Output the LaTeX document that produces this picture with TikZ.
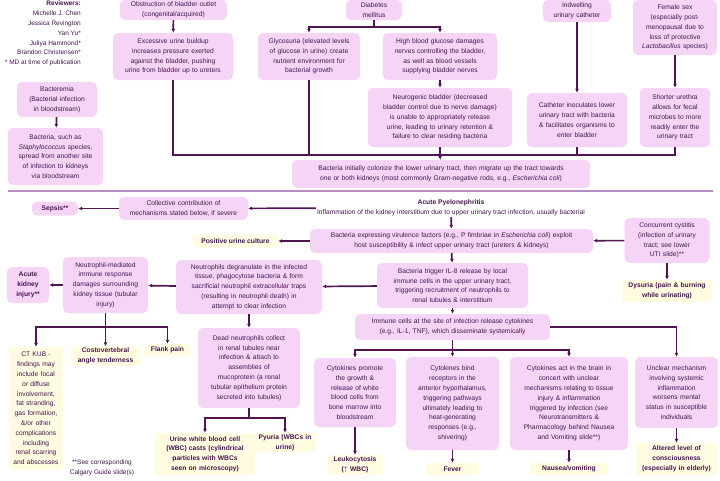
\documentclass[tikz,border=0pt]{standalone}
\usepackage{fontspec}
\setmainfont{Liberation Sans}
\usepackage{xcolor}
\usepackage{tikz}
\usetikzlibrary{
  arrows.meta,
  positioning,
  calc
}

\definecolor{boxpink}{RGB}{246,212,246}
\definecolor{findyellow}{RGB}{255,252,226}
\definecolor{inkpurple}{RGB}{70,20,80}
\definecolor{linepurple}{RGB}{80,22,82}
\definecolor{seppurple}{RGB}{185,140,195}

\begin{document}
\begin{tikzpicture}[
  x=1pt, y=-1pt,
  pinkbox/.style={
    fill=boxpink, rounded corners=5pt, align=center, text=inkpurple,
    inner xsep=3pt, inner ysep=2pt, font=\fontsize{6.7}{9.8}\selectfont
  },
  findbox/.style={
    fill=findyellow, rounded corners=2pt, align=center, text=inkpurple,
    inner xsep=3pt, inner ysep=1.5pt, font=\fontsize{6.7}{9.8}\selectfont\bfseries
  },
  flow/.style={draw=linepurple, line width=1.7pt, -{Latex[length=4pt, width=4pt]}},
  link/.style={draw=linepurple, line width=1.7pt},
  sepline/.style={draw=seppurple, line width=1.2pt}
]
  \useasboundingbox (0,0) rectangle (720,480);

  % reviewers
  \node[anchor=north east, align=right, text=inkpurple, inner sep=0pt,
        font=\fontsize{6.5}{9.8}\selectfont] (revs) at (81,1)
    {\textbf{Reviewers:}\\Michelle J. Chen\\Jessica Revington\\Yan Yu*\\Juliya Hammond*\\Brandon Christensen*\\* MD at time of publication};

  % risk factors
  \node[pinkbox, text width=101pt, minimum height=20pt] (obstr) at (173.5,10)
    {Obstruction of bladder outlet\\(congenital/acquired)};
  \node[pinkbox, text width=114pt, minimum height=47pt] (excess) at (173,56.5)
    {Excessive urine buildup\\increases pressure exerted\\against the bladder, pushing\\urine from bladder up to ureters};
  \node[pinkbox, text width=50pt, minimum height=20pt] (diabetes) at (374,10)
    {Diabetes\\mellitus};
  \node[pinkbox, text width=96pt, minimum height=47pt] (glyco) at (309,56.5)
    {Glycosuria (elevated levels\\of glucose in urine) create\\nutrient environment for\\bacterial growth};
  \node[pinkbox, text width=108pt, minimum height=47pt] (hbg) at (440,56.5)
    {High blood glucose damages\\nerves controlling the bladder,\\as well as blood vessels\\supplying bladder nerves};
  \node[pinkbox, text width=138pt, minimum height=59pt] (neuro) at (440,117.5)
    {Neurogenic bladder (decreased\\bladder control due to nerve damage)\\is unable to appropriately release\\urine, leading to urinary retention \&\\failure to clear residing bacteria};
  \node[pinkbox, text width=62pt, minimum height=22pt] (cath) at (577,11)
    {Indwelling\\urinary catheter};
  \node[pinkbox, text width=94pt, minimum height=54pt] (inoc) at (577,120)
    {Catheter inoculates lower\\urinary tract with bacteria\\\& facilitates organisms to\\enter bladder};
  \node[pinkbox, text width=78pt, minimum height=55pt] (female) at (675,27.5)
    {Female sex\\(especially post-\\menopausal due to\\loss of protective\\\textit{Lactobacillus} species)};
  \node[pinkbox, text width=64pt, minimum height=59pt] (urethra) at (675,117.5)
    {Shorter urethra\\allows for fecal\\microbes to more\\readily enter the\\urinary tract};
  \node[pinkbox, text width=74pt, minimum height=35pt] (bactm) at (57,99.5)
    {Bacteremia\\(Bacterial infection\\in bloodstream)};
  \node[pinkbox, text width=89pt, minimum height=57pt] (spread) at (55.5,156.5)
    {Bacteria, such as\\\textit{Staphylococcus} species,\\spread from another site\\of infection to kidneys\\via bloodstream};

  \draw[flow] (obstr) -- (excess);
  \draw[flow] (hbg) -- (neuro);
  \draw[flow] (cath) -- (inoc);
  \draw[flow] (female) -- (urethra);
  \draw[flow] (bactm) -- (spread);
  \coordinate (dmj) at (374,27);
  \draw[link] (diabetes) -- (dmj);
  \draw[flow] (dmj) -| (glyco);
  \draw[flow] (dmj) -| (hbg);

  % colonisation
  \node[pinkbox, text width=292pt, minimum height=28pt] (colon) at (441,174)
    {Bacteria initially colonize the lower urinary tract, then migrate up the tract towards\\one or both kidneys (most commonly Gram-negative rods, e.g., \textit{Escherichia coli})};
  \coordinate (bus) at (440,155);
  \draw[link] (excess.south) |- (bus);
  \draw[link] (urethra.south) |- (bus);
  \draw[link] (glyco.south) -- (glyco.south |- bus);
  \draw[link] (inoc.south) -- (inoc.south |- bus);
  \draw[link] (neuro.south) -- (bus);
  \draw[flow] (bus) -- (colon);

  \draw[sepline] (8,191) -- (713,191);

  % acute pyelonephritis
  \node[align=center, text=inkpurple, inner sep=1pt, font=\fontsize{6.7}{9.8}\selectfont] (pyelo) at (451,208)
    {\textbf{Acute Pyelonephritis}\\Inflammation of the kidney interstitium due to upper urinary tract infection, usually bacterial};
  \node[pinkbox, text width=123pt, minimum height=23pt] (collect) at (183.5,208.5)
    {Collective contribution of\\mechanisms stated below, if severe};
  \node[pinkbox, font=\fontsize{6.7}{9.8}\selectfont\bfseries, minimum width=46pt, minimum height=14pt] (sepsis) at (55,208.5)
    {Sepsis**};
  \draw[flow] (pyelo) -- (collect);
  \draw[flow] (collect) -- (sepsis);

  \node[pinkbox, text width=277pt, minimum height=24pt] (express) at (451.5,241)
    {Bacteria expressing virulence factors (e.g., P fimbriae in \textit{Escherichia coli}) exploit\\host susceptibility \& infect upper urinary tract (ureters \& kidneys)};
  \node[findbox, minimum width=85pt, minimum height=13pt] (posurine) at (235.5,241)
    {Positive urine culture};
  \node[pinkbox, text width=79pt, minimum height=45pt] (cystitis) at (667,240.5)
    {Concurrent cystitis\\(infection of urinary\\tract; see lower\\UTI slide)**};
  \node[findbox, text width=84pt, minimum height=22pt] (dysuria) at (667,291)
    {Dysuria (pain \& burning\\while urinating)};
  \draw[flow] (pyelo) -- (express);
  \draw[flow] (express) -- (posurine);
  \draw[flow] (cystitis) -- (express);
  \draw[flow] (cystitis) -- (dysuria);

  % neutrophils
  \node[pinkbox, text width=145pt, minimum height=45pt] (il8) at (452.5,285.5)
    {Bacteria trigger IL-8 release by local\\immune cells in the upper urinary tract,\\triggering recruitment of neutrophils to\\renal tubules \& interstitium};
  \node[pinkbox, text width=140pt, minimum height=54pt] (degran) at (249,287)
    {Neutrophils degranulate in the infected\\tissue, phagocytose bacteria \& form\\sacrificial neutrophil extracellular traps\\(resulting in neutrophil death) in\\attempt to clear infection};
  \node[pinkbox, text width=79pt, minimum height=56pt] (nmed) at (105.5,285)
    {Neutrophil-mediated\\immune response\\damages surrounding\\kidney tissue (tubular\\injury)};
  \node[pinkbox, font=\fontsize{6.7}{9.8}\selectfont\bfseries, text width=36pt, minimum height=36pt] (aki) at (28,285)
    {Acute\\kidney\\injury**};
  \draw[flow] (express) -- (il8);
  \draw[flow] (il8) -- (degran);
  \draw[flow] (degran) -- (nmed);
  \draw[flow] (nmed) -- (aki);

  \node[findbox, font=\fontsize{6.7}{9.8}\selectfont, text width=48pt, minimum height=123pt] (ctkub) at (36,408.5)
    {CT KUB -\\findings may\\include focal\\or diffuse\\involvement,\\fat stranding,\\gas formation,\\\&/or other\\complications\\including\\renal scarring\\and abscesses};
  \node[findbox, text width=64pt, minimum height=18pt] (cva) at (105.5,356)
    {Costovertebral\\angle tenderness};
  \node[findbox, minimum width=45pt, minimum height=12pt] (flank) at (167.5,350)
    {Flank pain};
  \coordinate (nmj) at (105.5,327);
  \draw[link] (nmed) -- (nmj);
  \draw[flow] (nmj) -| (ctkub);
  \draw[flow] (nmj) -- (cva);
  \draw[flow] (nmj) -| (flank);

  \node[align=center, text=inkpurple, inner sep=0pt, font=\fontsize{6.5}{9.8}\selectfont] (footnote) at (102,468)
    {**See corresponding\\Calgary Guide slide(s)};

  \node[pinkbox, text width=96pt, minimum height=80pt] (dead) at (249,368)
    {Dead neutrophils collect\\in renal tubules near\\infection \& attach to\\assemblies of\\mucoprotein (a renal\\tubular epithelium protein\\secreted into tubules)};
  \node[findbox, text width=94pt, minimum height=42pt] (casts) at (205,454)
    {Urine white blood cell\\(WBC) casts (cylindrical\\particles with WBCs\\seen on microscopy)};
  \node[findbox, text width=56pt, minimum height=19pt] (pyuria) at (285,442.5)
    {Pyuria (WBCs in\\urine)};
  \coordinate (dnj) at (249,418);
  \draw[flow] (degran) -- (dead);
  \draw[link] (dead) -- (dnj);
  \draw[flow] (dnj) -| (casts);
  \draw[flow] (dnj) -| (pyuria);

  % systemic cytokines
  \node[pinkbox, text width=189pt, minimum height=26pt] (immune) at (452.5,327)
    {Immune cells at the site of infection release cytokines\\(e.g., IL-1, TNF), which disseminate systemically};
  \node[pinkbox, text width=76pt, minimum height=69pt] (promote) at (355,392.5)
    {Cytokines promote\\the growth \&\\release of white\\blood cells from\\bone marrow into\\bloodstream};
  \node[findbox, text width=49pt, minimum height=20pt] (leuko) at (355,465)
    {Leukocytosis\\($\uparrow$ WBC)};
  \node[pinkbox, text width=87pt, minimum height=93pt] (bind) at (452.5,403.5)
    {Cytokines bind\\receptors in the\\anterior hypothalamus,\\triggering pathways\\ultimately leading to\\heat-generating\\responses (e.g.,\\shivering)};
  \node[findbox, minimum width=52pt, minimum height=12pt] (fever) at (452.5,469)
    {Fever};
  \node[pinkbox, text width=112pt, minimum height=93pt] (act) at (569,403.5)
    {Cytokines act in the brain in\\concert with unclear\\mechanisms relating to tissue\\injury \& inflammation\\triggered by infection (see\\Neurotransmitters \&\\Pharmacology behind Nausea\\and Vomiting slide**)};
  \node[findbox, minimum width=78pt, minimum height=12pt] (nausea) at (569,469)
    {Nausea/vomiting};
  \node[pinkbox, text width=77pt, minimum height=71pt] (unclear) at (676.5,392.5)
    {Unclear mechanism\\involving systemic\\inflammation\\worsens mental\\status in susceptible\\individuals};
  \node[findbox, text width=75pt, minimum height=32pt] (altered) at (676.5,459)
    {Altered level of\\consciousness\\(especially in elderly)};

  \coordinate (cyj) at (452.5,350);
  \draw[flow] (il8) -- (immune);
  \draw[link] (immune) -- (cyj);
  \draw[flow] (cyj) -| (promote);
  \draw[flow] (cyj) -- (bind);
  \draw[flow] (cyj) -| (act);
  \draw[flow] (immune.east) -| (unclear);
  \draw[flow] (promote) -- (leuko);
  \draw[flow] (bind) -- (fever);
  \draw[flow] (act) -- (nausea);
  \draw[flow] (unclear) -- (altered);
\end{tikzpicture}
\end{document}
